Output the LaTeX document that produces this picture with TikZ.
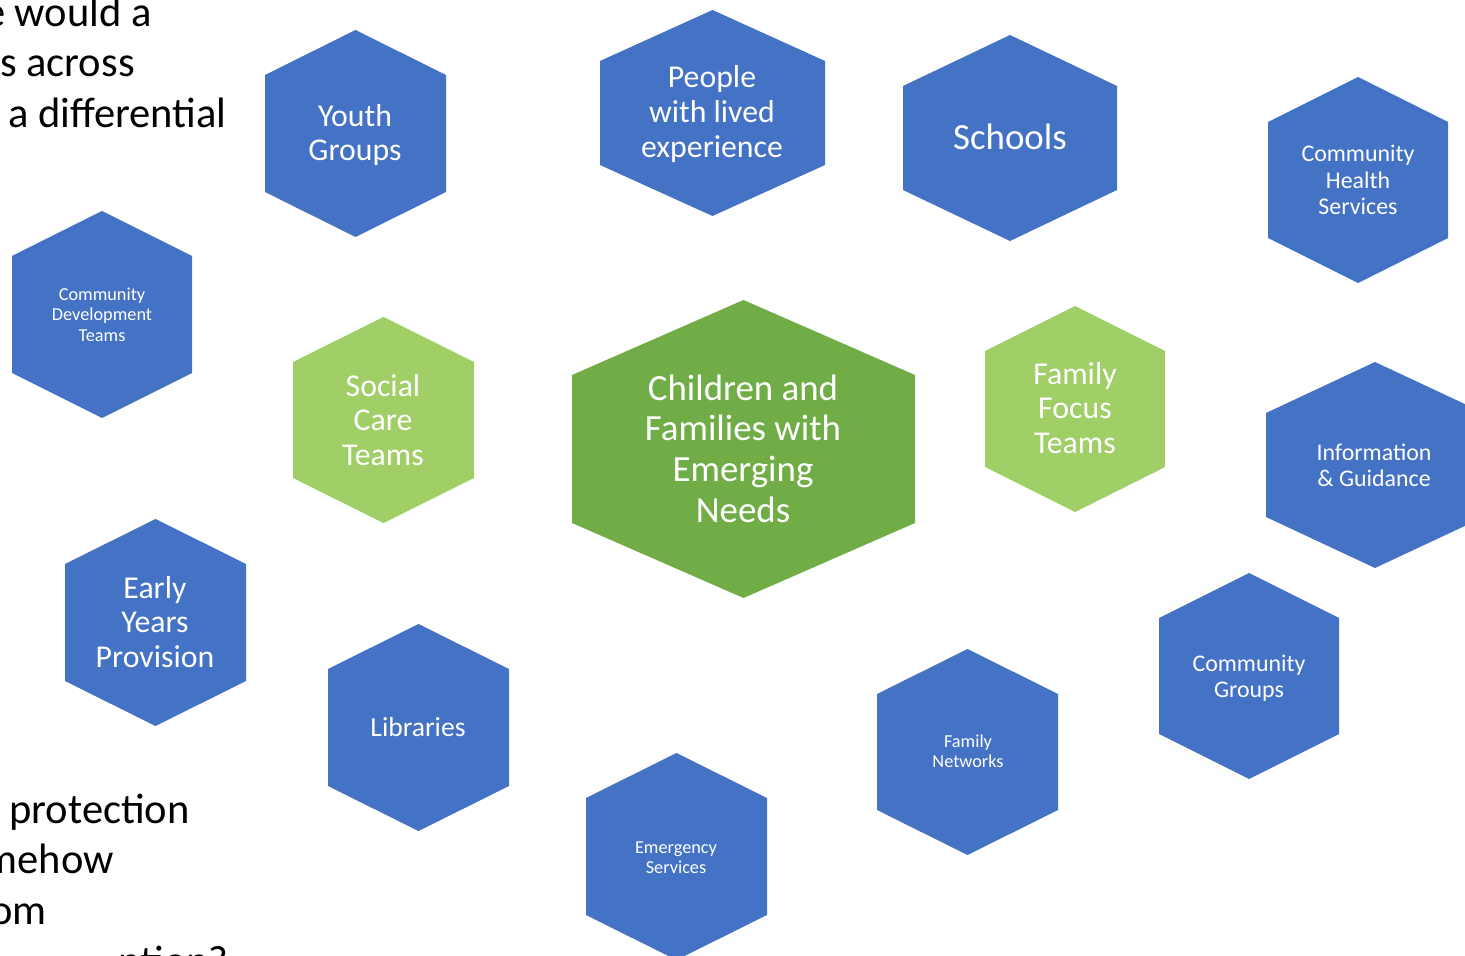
\documentclass[tikz,border=0pt]{standalone}
\usepackage{fontspec}
\setmainfont{Carlito}
\definecolor{hexblue}{HTML}{4472C4}
\definecolor{hexgreen}{HTML}{70AD47}
\definecolor{hexlight}{HTML}{A1CF67}
\tikzset{
every hexcell/.style={inner sep=0pt},
}
% pointy-topped hexagon: centre x, centre y, half width, half height, corner drop, fill
\newcommand{\hexcell}[6]{%
  \fill[#6] (#1,#2-#4) -- (#1+#3,#2-#4+#5) -- (#1+#3,#2+#4-#5) -- (#1,#2+#4)
    -- (#1-#3,#2+#4-#5) -- (#1-#3,#2-#4+#5) -- cycle;}

\begin{document}
\begin{tikzpicture}[x=0.02cm, y=-0.02cm,
						hexlbl/.style={text=white, align=center, inner sep=0pt},
						xl/.style={font=\fontsize{21}{23.2}\selectfont},
						lg/.style={font=\fontsize{18.1}{19.8}\selectfont},
						lib/.style={font=\fontsize{15.7}{17.2}\selectfont},
						md/.style={font=\fontsize{13.6}{15}\selectfont},
						sm/.style={font=\fontsize{10.4}{11.6}\selectfont},
						sidetxt/.style={font=\fontsize{24.2}{28.6}\selectfont, anchor=base east, inner sep=0pt},
					]
					\useasboundingbox (0,0) rectangle (1465,956);
					\fill[white] (0,0) rectangle (1465,956);
					\clip (0,0) rectangle (1465,956);
					% question text running off the left edge
					\node[sidetxt] (q1) at (152,27) {e would a};
					\node[sidetxt] (q2) at (135,77) {s across};
					\node[sidetxt] (q3) at (227,128) {a differential};
					\node[sidetxt] (q4) at (190,823) {protection};
					\node[sidetxt] (q5) at (114,873) {mehow};
					\node[sidetxt] (q6) at (47,924) {om};
					\node[sidetxt] (q7) at (229,975) {ntion?};
					% top row
					\hexcell{355.5}{133.5}{90.5}{103.5}{45}{hexblue}
					\node[hexlbl, lg] (youth) at (355,135) {Youth\\Groups};
					\hexcell{712.5}{113}{112.5}{103}{51}{hexblue}
					\node[hexlbl, lg] (people) at (712,114) {People\\with lived\\experience};
					\hexcell{1010}{138}{107}{103}{51}{hexblue}
					\node[hexlbl, xl] (schools) at (1010,137) {Schools};
					\hexcell{1358}{180}{90}{103}{45}{hexblue}
					\node[hexlbl, md] (health) at (1358,180) {Community\\Health\\Services};
					% middle row
					\hexcell{102}{314.5}{90}{103.5}{45}{hexblue}
					\node[hexlbl, sm] (devteams) at (102,314.5) {Community\\Development\\Teams};
					\hexcell{383.5}{420}{90.5}{103}{45}{hexlight}
					\node[hexlbl, lg] (social) at (383,420) {Social\\Care\\Teams};
					\hexcell{743.5}{449}{171.5}{149}{75}{hexgreen}
					\node[hexlbl, xl] (centre) at (743,448.5) {Children and\\Families with\\Emerging\\Needs};
					\hexcell{1075}{409}{90}{103}{45}{hexlight}
					\node[hexlbl, lg] (focus) at (1075,408) {Family\\Focus\\Teams};
					\hexcell{1375}{465}{109}{103}{51}{hexblue}
					\node[hexlbl, md] (info) at (1374,465.5) {Information\\\& Guidance};
					% bottom row
					\hexcell{155.5}{622.5}{90.5}{103.5}{45}{hexblue}
					\node[hexlbl, lg] (early) at (155,622) {Early\\Years\\Provision};
					\hexcell{418.5}{727.5}{90.5}{103.5}{45}{hexblue}
					\node[hexlbl, lib] (libraries) at (418,727) {Libraries};
					\hexcell{676.5}{856.5}{90.5}{103.5}{45}{hexblue}
					\node[hexlbl, sm] (emergency) at (676,857.5) {Emergency\\Services};
					\hexcell{967.5}{752}{90.5}{103}{45}{hexblue}
					\node[hexlbl, sm] (networks) at (968,751.5) {Family\\Networks};
					\hexcell{1249}{676}{90}{103}{45}{hexblue}
					\node[hexlbl, md] (groups) at (1249,678) {Community\\Groups};
	\end{tikzpicture}
\end{document}
